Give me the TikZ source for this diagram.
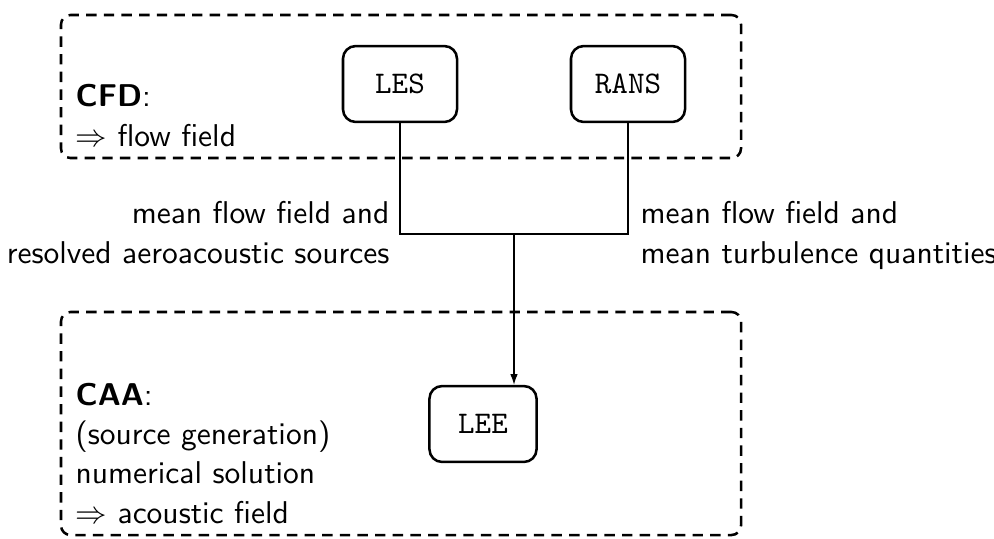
\documentclass[tikz,border=0pt]{standalone}
\usetikzlibrary{arrows.meta,fit}
\begin{document}
\begin{tikzpicture}[x=0.3175pt,y=-0.3175pt,
  groupbox/.style={draw,thick,dashed,dash pattern=on 3.3pt off 2.3pt,rounded corners=3pt,inner sep=0pt},
  proc/.style={draw,thick,rounded corners=4pt,font=\ttfamily,minimum height=24.1pt,inner sep=2pt},
  conn/.style={draw,line width=0.4pt},
  note/.style={font=\sffamily\fontsize{10}{12.4}\selectfont,inner sep=0pt}]
  \useasboundingbox (0,0) rectangle (994,538);

  % solver groups
  \coordinate (cfdtl) at (61,15);
  \coordinate (cfdbr) at (741,158);
  \coordinate (caatl) at (61,312);
  \coordinate (caabr) at (741,535);
  \node[groupbox,fit=(cfdtl)(cfdbr)] (cfd) {};
  \node[groupbox,fit=(caatl)(caabr)] (caa) {};

  % solvers
  \node[proc,minimum width=36.2pt] (les) at (400,84) {LES};
  \node[proc,minimum width=36.2pt] (rans) at (628,84) {RANS};
  \node[proc,minimum width=34pt] (lee) at (483,424) {LEE};

  % group descriptions (anchored at the baseline of the last line)
  \node[note,align=left,anchor=base west] (cfdtext) at (75,146)
    {\textbf{CFD}:\\$\Rightarrow$ flow field};
  \node[note,align=left,anchor=base west] (caatext) at (75,523)
    {\textbf{CAA}:\\(source generation)\\numerical solution\\$\Rightarrow$ acoustic field};

  % coupling data
  \node[note,align=right,anchor=base east] (lesdata) at (390,263)
    {mean flow field and\\resolved aeroacoustic sources};
  \node[note,align=left,anchor=base west] (ransdata) at (640,263)
    {mean flow field and\\mean turbulence quantities};

  % connectors
  \coordinate (join) at (514,234);
  \draw[conn] (les.south) |- (join) -| (rans.south);
  \draw[conn,-{Latex[length=3.4pt,width=2.4pt]}] (join) -- (join |- lee.north);
\end{tikzpicture}
\end{document}
